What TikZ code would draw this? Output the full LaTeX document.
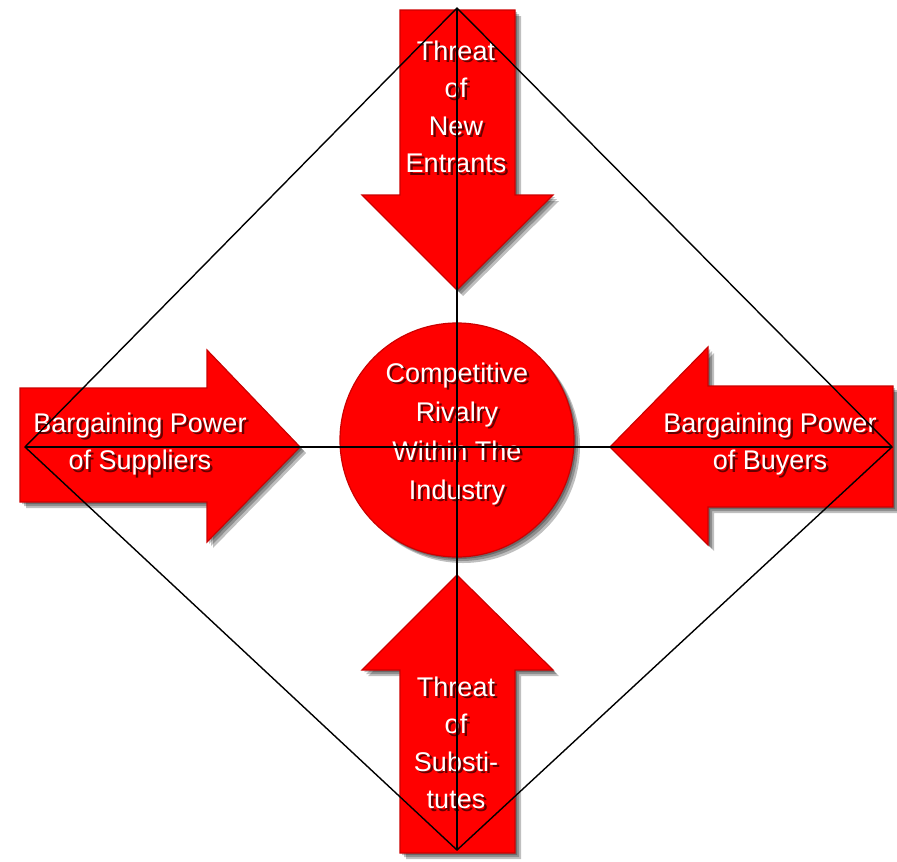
\documentclass[tikz,border=0pt]{standalone}
\usepackage{fontspec}
\setmainfont{Liberation Sans}
\newcommand\shadowlabel[5]{%
  \node[lblshadow,#5] at (#2+2.5,#3+2.5) {#4};
  \node[lbl,#5] (#1) at (#2,#3) {#4};}
\begin{document}
\begin{tikzpicture}[x=1pt,y=-1pt,
  shape fill/.style={fill=red, draw=red!80!black, line width=1.2pt, line join=miter},
  shape shadow/.style={fill=black, opacity=0.25, draw=none},
  lbl/.style={text=white, align=center, inner sep=0pt, font=\fontsize{27}{37.5}\selectfont},
  lblshadow/.style={lbl, text=red!40!black},
  guide/.style={draw=black, line width=1.4pt}]
\useasboundingbox (0,0) rectangle (897,862);
% shadows
\foreach \d in {2,4,6}{
  \begin{scope}[shift={(\d,\d)}]
  \fill[shape shadow] (400,10)--(515,10)--(515,195)--(553,195)--(457,290)--(362,195)--(400,195)--cycle;
  \fill[shape shadow] (457,575)--(553,670)--(515,670)--(515,853)--(400,853)--(400,670)--(362,670)--cycle;
  \fill[shape shadow] (20,388)--(207,388)--(207,350)--(300,447)--(207,542)--(207,502)--(20,502)--cycle;
  \fill[shape shadow] (610,447)--(708,347)--(708,386)--(893,386)--(893,507)--(708,507)--(708,545)--cycle;
  \fill[shape shadow] (457,440) circle[radius=117];
  \end{scope}}
% arrows and circle
\filldraw[shape fill] (400,10)--(515,10)--(515,195)--(553,195)--(457,290)--(362,195)--(400,195)--cycle;
\filldraw[shape fill] (457,575)--(553,670)--(515,670)--(515,853)--(400,853)--(400,670)--(362,670)--cycle;
\filldraw[shape fill] (20,388)--(207,388)--(207,350)--(300,447)--(207,542)--(207,502)--(20,502)--cycle;
\filldraw[shape fill] (610,447)--(708,347)--(708,386)--(893,386)--(893,507)--(708,507)--(708,545)--cycle;
\filldraw[shape fill] (457,440) circle[radius=117];
% labels
\shadowlabel{new}{456}{107}{Threat\\of\\New\\Entrants}{}
\shadowlabel{sub}{456}{743}{Threat\\of\\Substi-\\tutes}{}
\shadowlabel{sup}{140}{444}{Bargaining Power\\of Suppliers}{}
\shadowlabel{buy}{770}{444}{Bargaining Power\\of Buyers}{}
\shadowlabel{riv}{457}{434}{Competitive\\Rivalry\\Within The\\Industry}{font=\fontsize{27}{39}\selectfont}
% guide lines
\coordinate (T) at (457,8);
\coordinate (L) at (25,447);
\coordinate (R) at (892,447);
\coordinate (B) at (457,850);
\draw[guide] (T)--(R)--(B)--(L)--cycle;
\draw[guide] (T)--(B);
\draw[guide] (L)--(R);
\end{tikzpicture}
\end{document}
